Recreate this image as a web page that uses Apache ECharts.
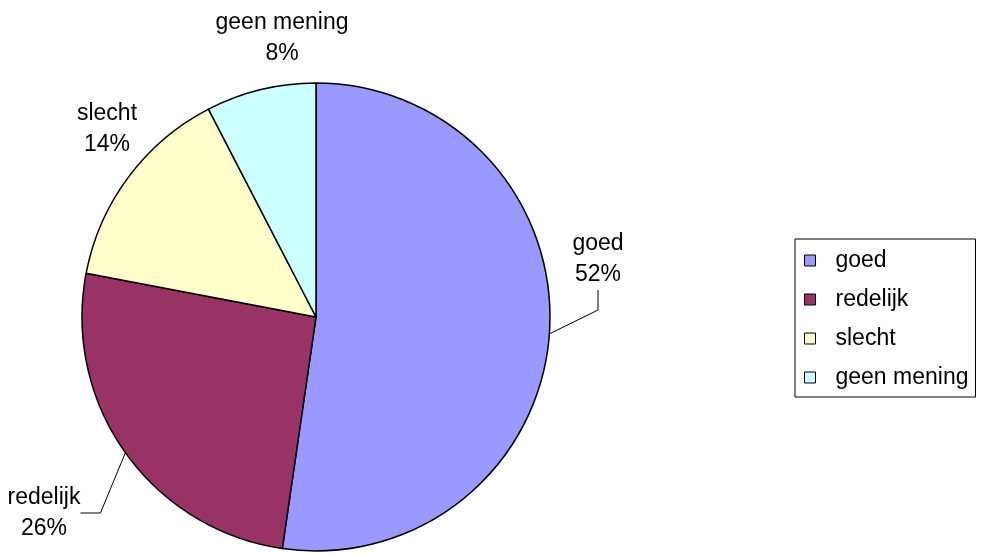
<!DOCTYPE html>
<html>
<head>
<meta charset="utf-8">
<script src="https://cdn.jsdelivr.net/npm/echarts@6/dist/echarts.min.js"></script>
<style>
html,body{margin:0;padding:0;background:#fff;}
#c{width:981px;height:554px;}
</style>
</head>
<body>
<div id="c"></div>
<script>
const categories = ['goed', 'redelijk', 'slecht', 'geen mening'];
const values = [52.3, 25.7, 14.4, 7.6];
const colors = ['#9999FF', '#993366', '#FFFFCC', '#CCFFFF'];
const showGuide = [true, true, false, false];
// label block centres (layout only)
const labelPos = [[598, 259], [44, 513], [107, 129], [282, 38]];

const FONT = '"Liberation Sans", Arial, sans-serif';

const chart = echarts.init(document.getElementById('c'), null, {renderer: 'canvas'});
chart.setOption({
  backgroundColor: '#ffffff',
  animation: false,
  legend: {
    orient: 'vertical',
    left: 795,
    top: 239,
    padding: [10, 7, 8, 9],
    itemGap: 16,
    itemWidth: 11,
    itemHeight: 11,
    icon: 'rect',
    borderColor: '#000',
    borderWidth: 1,
    backgroundColor: '#fff',
    itemStyle: {borderColor: '#000', borderWidth: 1},
    textStyle: {fontFamily: FONT, fontSize: 23, color: '#000', lineHeight: 23, padding: [0, 0, 0, 15]},
    data: categories
  },
  series: [{
    type: 'pie',
    center: [316, 317],
    radius: 234,
    startAngle: 90,
    clockwise: true,
    avoidLabelOverlap: false,
    itemStyle: {borderColor: '#000', borderWidth: 1.5},
    label: {
      show: true,
      position: 'outside',
      formatter: p => p.name + '\n' + Math.round(p.percent) + '%',
      fontFamily: FONT,
      fontSize: 23,
      lineHeight: 31,
      color: '#000',
      align: 'center'
    },
    labelLine: {show: true, length: 20, length2: 20, smooth: false, lineStyle: {color: '#000', width: 1}},
    labelLayout: function (params) {
      const p = labelPos[params.dataIndex];
      return {x: p[0], y: p[1], align: 'center', verticalAlign: 'middle'};
    },
    emphasis: {disabled: true},
    data: categories.map((c, i) => ({
      name: c,
      value: values[i],
      itemStyle: {color: colors[i]},
      labelLine: {show: showGuide[i]}
    }))
  }]
});
</script>
</body>
</html>
